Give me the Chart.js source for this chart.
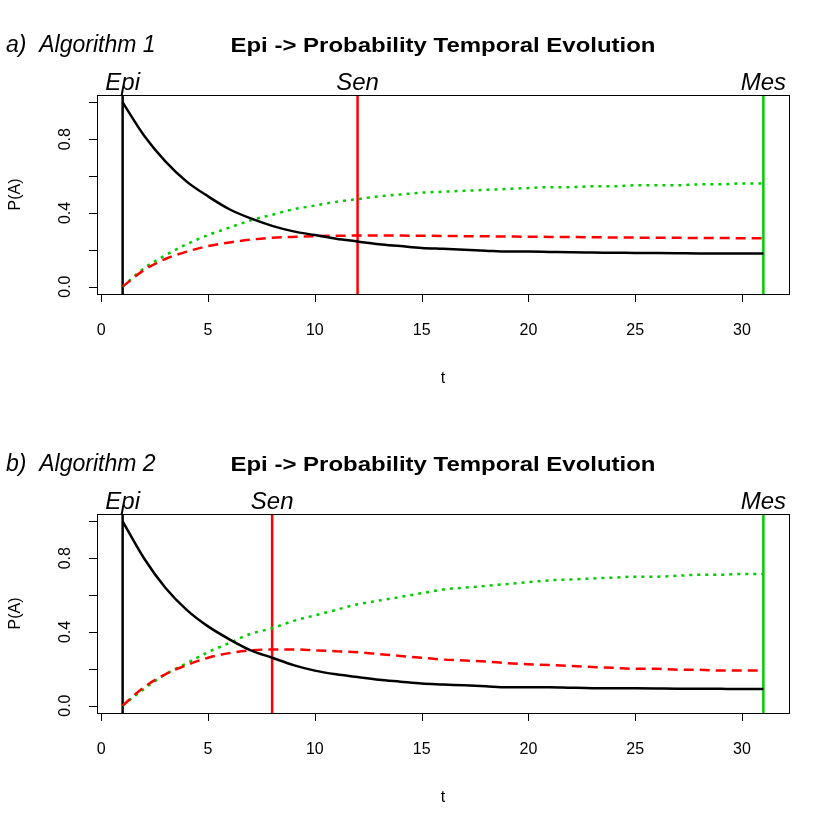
<!DOCTYPE html>
<html><head><meta charset="utf-8">
<script src="https://cdn.jsdelivr.net/npm/chart.js@4/dist/chart.umd.min.js"></script>
<style>
body{margin:0;background:#fff;width:817px;height:837px;position:relative;overflow:hidden}
.p{position:absolute;left:0;width:817px;height:419px}
</style></head><body>
<div class="p" style="top:0"><canvas id="c1"></canvas></div>
<div class="p" style="top:419px"><canvas id="c2"></canvas></div>
<script>
const T=[];for(let i=1;i<=31;i++)T.push(i);
const xTicks=[0,5,10,15,20,25,30];
const yTicks=[0,0.2,0.4,0.6,0.8,1.0];
const yLabels=["0.0","","0.4","","0.8",""];

const epiA=[1.0,0.82,0.68,0.57,0.49,0.42,0.37,0.33,0.30,0.28,0.26,0.245,0.23,0.22,0.21,0.205,0.20,0.195,0.19,0.19,0.188,0.186,0.185,0.184,0.183,0.182,0.181,0.18,0.18,0.18,0.18];
const senA=[0,0.09,0.15,0.19,0.22,0.24,0.255,0.265,0.27,0.274,0.276,0.277,0.277,0.277,0.276,0.275,0.274,0.273,0.272,0.271,0.27,0.269,0.268,0.267,0.266,0.265,0.265,0.264,0.264,0.263,0.263];
const mesA=[0,0.10,0.17,0.23,0.28,0.32,0.36,0.39,0.42,0.44,0.46,0.475,0.49,0.50,0.51,0.515,0.52,0.525,0.53,0.535,0.54,0.54,0.545,0.545,0.55,0.55,0.55,0.555,0.555,0.56,0.56];

const epiB=[1.0,0.80,0.64,0.52,0.43,0.36,0.30,0.26,0.22,0.19,0.17,0.155,0.14,0.13,0.12,0.115,0.11,0.105,0.10,0.10,0.10,0.097,0.095,0.095,0.094,0.093,0.092,0.092,0.091,0.09,0.09];
const senB=[0,0.10,0.17,0.22,0.26,0.285,0.30,0.305,0.305,0.30,0.295,0.29,0.28,0.27,0.26,0.25,0.245,0.24,0.23,0.225,0.22,0.215,0.21,0.205,0.20,0.20,0.195,0.195,0.19,0.19,0.19];
const mesB=[0,0.09,0.17,0.23,0.29,0.34,0.39,0.42,0.46,0.49,0.52,0.55,0.57,0.59,0.61,0.63,0.64,0.65,0.66,0.67,0.68,0.685,0.69,0.695,0.70,0.70,0.705,0.71,0.71,0.715,0.715];

const GREEN="#00cd00", RED="#ff0000";

function pts(ys){ return T.map((t,i)=>({x:t,y:ys[i]})); }
function vline(x,c){ return {data:[{x:x,y:-0.04},{x:x,y:1.04}],borderColor:c,borderWidth:2.5,pointRadius:0,cubicInterpolationMode:"default",tension:0}; }

function fitText(c,txt,cx,cy,w){
  const m=c.measureText(txt).width;
  c.save();c.translate(cx,cy);c.scale(w/m,1);c.fillText(txt,0,0);c.restore();
}

const rAxes={
  id:"rAxes",
  afterDraw(ch,args,o){
    const c=ch.ctx,a=ch.chartArea,xs=ch.scales.x,ys=ch.scales.y;
    c.save();
    c.strokeStyle="#000";c.lineWidth=1;
    c.strokeRect(a.left+0.5,a.top+0.5,a.right-a.left,a.bottom-a.top);
    c.beginPath();
    xTicks.forEach(v=>{const p=Math.round(xs.getPixelForValue(v))+0.5;c.moveTo(p,a.bottom);c.lineTo(p,a.bottom+8);});
    yTicks.forEach(v=>{const p=Math.round(ys.getPixelForValue(v))+0.5;c.moveTo(a.left,p);c.lineTo(a.left-8,p);});
    c.stroke();
    c.fillStyle="#000";c.font="16px 'Liberation Sans', Arial";c.textAlign="center";c.textBaseline="middle";
    xTicks.forEach(v=>c.fillText(String(v),xs.getPixelForValue(v),a.bottom+37));
    yTicks.forEach((v,i)=>{if(!yLabels[i])return;c.save();c.translate(a.left-31,ys.getPixelForValue(v));c.rotate(-Math.PI/2);c.fillText(yLabels[i],0,0);c.restore();});
    c.fillText("t",(a.left+a.right)/2,a.bottom+85);
    c.save();c.translate(16,(a.top+a.bottom)/2);c.rotate(-Math.PI/2);c.fillText("P(A)",0,0);c.restore();
    c.font="bold 21px 'Liberation Sans', Arial";
    fitText(c,"Epi -> Probability Temporal Evolution",443,46,425);
    c.font="italic 23px 'Liberation Sans', Arial";c.textAlign="left";
    c.fillText(o.tag,6,46);
    c.textAlign="center";c.textBaseline="alphabetic";c.font="italic 24px 'Liberation Sans', Arial";
    c.fillText("Epi",xs.getPixelForValue(1),a.top-5);
    c.fillText("Sen",xs.getPixelForValue(o.sen),a.top-5);
    c.fillText("Mes",xs.getPixelForValue(31),a.top-5);
    c.restore();
  }
};

function make(id,tag,epi,sen,mes,senT){
  new Chart(document.getElementById(id),{
    type:"line",
    data:{datasets:[
      {data:pts(epi),borderColor:"#000",borderWidth:2.5,pointRadius:0},
      {data:pts(sen),borderColor:RED,borderWidth:2.5,borderDash:[10,6],pointRadius:0},
      {data:pts(mes),borderColor:GREEN,borderWidth:2.5,borderDash:[3,5],pointRadius:0},
      vline(1,"#000"),vline(senT,RED),vline(31,GREEN)
    ]},
    options:{
      responsive:true,maintainAspectRatio:false,animation:false,
      elements:{line:{cubicInterpolationMode:"monotone"}},
      layout:{padding:{left:97,right:28,top:95,bottom:125}},
      plugins:{legend:{display:false},tooltip:{enabled:false},rAxes:{tag:tag,sen:senT}},
      scales:{
        x:{type:"linear",min:-0.2,max:32.2,display:false},
        y:{min:-0.04,max:1.04,display:false}
      }
    },
    plugins:[rAxes]
  });
}
make("c1","a)  Algorithm 1",epiA,senA,mesA,12);
make("c2","b)  Algorithm 2",epiB,senB,mesB,8);
</script>
</body></html>
